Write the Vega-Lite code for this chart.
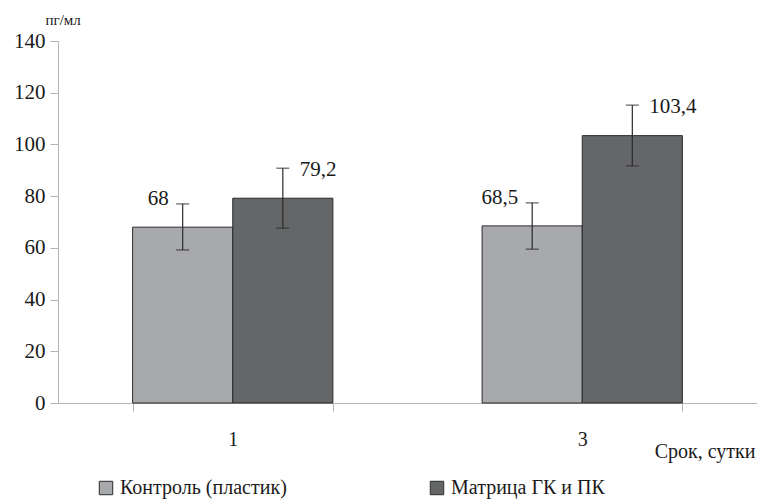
{
  "$schema": "https://vega.github.io/schema/vega-lite/v6.json",
  "width": 699,
  "height": 362,
  "autosize": "none",
  "padding": {"top": 41, "left": 58, "right": 0, "bottom": 97},
  "background": "white",
  "config": {
    "font": "'Liberation Serif', 'DejaVu Serif', serif",
    "view": {"stroke": null},
    "text": {"font": "'Liberation Serif', 'DejaVu Serif', serif"},
    "axis": {"grid": false, "domainColor": "#b3b3b3", "tickColor": "#b3b3b3", "labelColor": "#1a1a1a", "titleColor": "#1a1a1a", "labelFont": "'Liberation Serif', 'DejaVu Serif', serif", "titleFont": "'Liberation Serif', 'DejaVu Serif', serif", "titleFontWeight": "normal"},
    "legend": {"labelFont": "'Liberation Serif', 'DejaVu Serif', serif"}
  },
  "data": {
    "values": [
      {"day": "1", "group": "Контроль (пластик)", "value": 68, "lo": 59.2, "hi": 77.0, "label": "68"},
      {"day": "1", "group": "Матрица ГК и ПК", "value": 79.2, "lo": 67.6, "hi": 90.8, "label": "79,2"},
      {"day": "3", "group": "Контроль (пластик)", "value": 68.5, "lo": 59.5, "hi": 77.4, "label": "68,5"},
      {"day": "3", "group": "Матрица ГК и ПК", "value": 103.4, "lo": 91.7, "hi": 115.2, "label": "103,4"}
    ]
  },
  "encoding": {
    "x": {
      "field": "day", "type": "nominal", "sort": ["1", "3"],
      "scale": {"paddingInner": 0.427, "paddingOuter": 0.2135},
      "axis": {
        "title": "Срок, сутки", "titleFontSize": 20, "titleAnchor": "end", "titleAlign": "right",
        "titleX": 697, "titleY": 54, "titleBaseline": "alphabetic",
        "labelAngle": 0, "labelFontSize": 20, "labelPadding": 18, "tickSize": 8, "tickBand": "extent"
      }
    },
    "xOffset": {"field": "group", "type": "nominal", "scale": {"paddingInner": 0, "paddingOuter": 0}}
  },
  "layer": [
    {
      "mark": {"type": "bar", "stroke": "#2b2b2b", "strokeWidth": 1},
      "encoding": {
        "y": {
          "field": "value", "type": "quantitative",
          "scale": {"domain": [0, 140], "nice": false},
          "axis": {
            "values": [0, 20, 40, 60, 80, 100, 120, 140],
            "title": "пг/мл", "titleAngle": 0, "titleFontSize": 15, "titleAlign": "left",
            "titleX": -13, "titleY": -17, "titleBaseline": "alphabetic",
            "labelFontSize": 21, "tickSize": 8, "labelPadding": 5
          }
        },
        "fill": {
          "field": "group", "type": "nominal",
          "scale": {"range": ["#a8a9ad", "#656668"]},
          "legend": {
            "title": null, "orient": "none", "legendX": 38, "legendY": 437,
            "direction": "horizontal", "columns": 2, "columnPadding": 140,
            "symbolType": "square", "symbolSize": 180, "symbolStrokeColor": "#2b2b2b", "symbolStrokeWidth": 1,
            "labelFontSize": 20, "labelColor": "#1a1a1a", "labelOffset": 4, "labelLimit": 400
          }
        }
      }
    },
    {
      "mark": {"type": "rule", "color": "#2b2b2b", "strokeWidth": 1.2},
      "encoding": {"y": {"field": "lo", "type": "quantitative"}, "y2": {"field": "hi"}}
    },
    {
      "mark": {"type": "tick", "color": "#2b2b2b", "size": 13, "thickness": 1.3},
      "encoding": {"y": {"field": "lo", "type": "quantitative"}}
    },
    {
      "mark": {"type": "tick", "color": "#2b2b2b", "size": 13, "thickness": 1.3},
      "encoding": {"y": {"field": "hi", "type": "quantitative"}}
    },
    {
      "transform": [{"filter": "datum.group == 'Контроль (пластик)'"}],
      "mark": {"type": "text", "align": "right", "baseline": "middle", "dx": -14, "dy": -5, "fontSize": 21, "color": "#1a1a1a", "font": "'Liberation Serif', 'DejaVu Serif', serif"},
      "encoding": {"y": {"field": "hi", "type": "quantitative"}, "text": {"field": "label"}}
    },
    {
      "transform": [{"filter": "datum.group == 'Матрица ГК и ПК'"}],
      "mark": {"type": "text", "align": "left", "baseline": "middle", "dx": 17, "dy": 2, "fontSize": 21, "color": "#1a1a1a", "font": "'Liberation Serif', 'DejaVu Serif', serif"},
      "encoding": {"y": {"field": "hi", "type": "quantitative"}, "text": {"field": "label"}}
    }
  ]
}
